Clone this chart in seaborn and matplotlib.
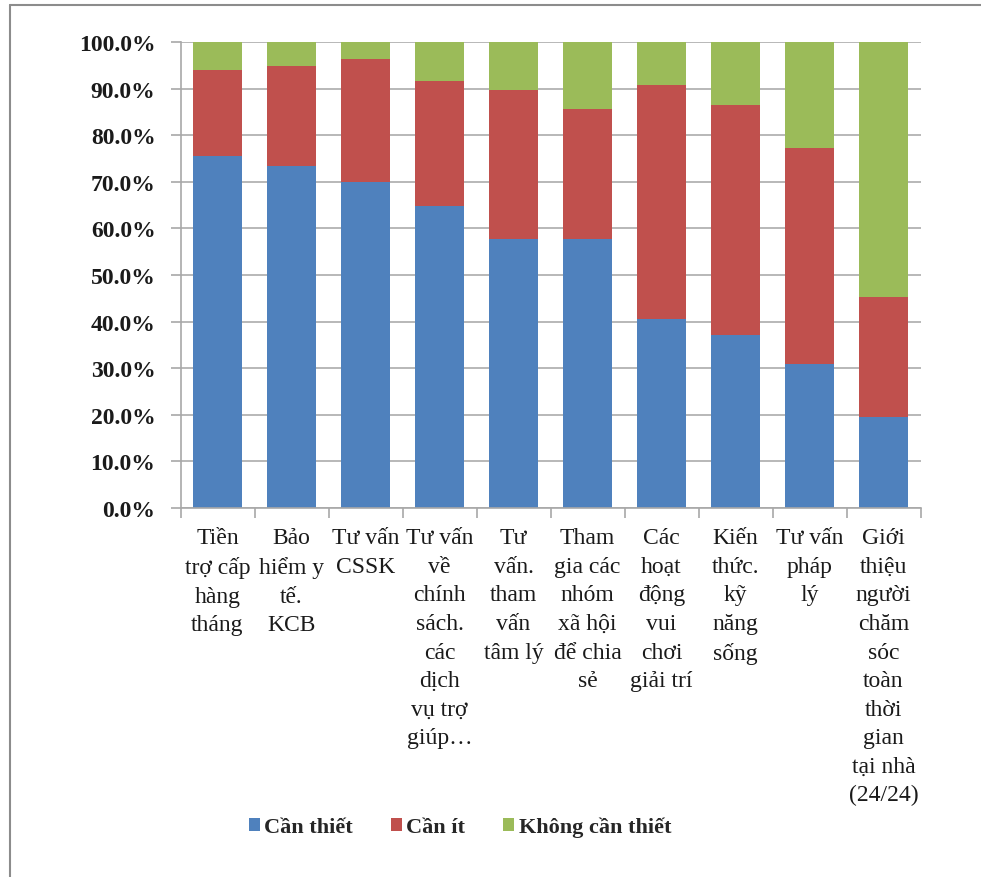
import numpy as np
import pandas as pd
import matplotlib
matplotlib.use("Agg")
import matplotlib.pyplot as plt
from matplotlib.lines import Line2D
from matplotlib.patches import Patch
from matplotlib.ticker import PercentFormatter, FixedLocator
import seaborn as sns

# Service categories (wrapped as they appear on the axis)
categories = [
    "Tiền\ntrợ cấp\nhàng\ntháng",
    "Bảo\nhiểm y\ntế.\nKCB",
    "Tư vấn\nCSSK",
    "Tư vấn\nvề\nchính\nsách.\ncác\ndịch\nvụ trợ\ngiúp…",
    "Tư\nvấn.\ntham\nvấn\ntâm lý",
    "Tham\ngia các\nnhóm\nxã hội\nđể chia\nsẻ",
    "Các\nhoạt\nđộng\nvui\nchơi\ngiải trí",
    "Kiến\nthức.\nkỹ\nnăng\nsống",
    "Tư vấn\npháp\nlý",
    "Giới\nthiệu\nngười\nchăm\nsóc\ntoàn\nthời\ngian\ntại nhà\n(24/24)",
]

# Share of respondents (%) per need level
can_thiet = [75.5, 73.3, 70.0, 64.9, 57.7, 57.7, 40.6, 37.1, 30.9, 19.5]
can_it = [18.5, 21.6, 26.3, 26.8, 32.1, 27.9, 50.2, 49.4, 46.3, 25.8]
khong_can_thiet = [6.0, 5.1, 3.7, 8.3, 10.2, 14.4, 9.2, 13.5, 22.8, 54.7]

series_names = ["Cần thiết", "Cần ít", "Không cần thiết"]
colors = ["#4F81BD", "#C0504D", "#9BBB59"]

sns.set_theme(style="white")
plt.rcParams["font.family"] = ["Liberation Serif", "DejaVu Serif"]

df = pd.DataFrame({
    "cat": categories,
    "s1": can_thiet,
    "s2": can_it,
    "s3": khong_can_thiet,
})
df["c1"] = df["s1"]
df["c2"] = df["s1"] + df["s2"]
df["c3"] = df["s1"] + df["s2"] + df["s3"]

fig = plt.figure(figsize=(9.81, 8.78), dpi=100)
ax = fig.add_axes([180.5 / 981, 1 - 509 / 878, 740 / 981, 466 / 878])

# Stacked bars: draw cumulative totals from the top segment downwards
for col, color in zip(["c3", "c2", "c1"], colors[::-1]):
    sns.barplot(data=df, x="cat", y=col, color=color, width=0.66,
                saturation=1, ax=ax, linewidth=0, zorder=2)

ax.set_xlim(-0.5, len(categories) - 0.5)
ax.set_ylim(0, 100)
ax.set_xlabel("")
ax.set_ylabel("")

ax.yaxis.set_major_locator(FixedLocator(np.arange(0, 101, 10)))
ax.yaxis.set_major_formatter(PercentFormatter(decimals=1))
ax.grid(axis="y", color="#ABABAB", linewidth=1.2, zorder=0)
ax.grid(axis="x", visible=False)
ax.set_axisbelow(True)

for side in ["top", "right"]:
    ax.spines[side].set_visible(False)
for side in ["left", "bottom"]:
    ax.spines[side].set_color("#A8A8A8")
    ax.spines[side].set_linewidth(1.2)

ax.tick_params(axis="y", which="major", left=True, length=7, width=1.2,
               color="#A8A8A8", pad=11, labelsize=17)
for lbl in ax.get_yticklabels():
    lbl.set_fontweight("bold")
    lbl.set_color("#1A1A1A")

# Category labels centred under bars, tick marks between categories
ax.set_xticks(range(len(categories)))
ax.set_xticklabels(categories, fontsize=17, color="#1A1A1A",
                   linespacing=1.47, ha="center", va="top")
ax.tick_params(axis="x", which="major", length=0, pad=14)
ax.set_xticks(np.arange(-0.5, len(categories), 1.0), minor=True)
ax.tick_params(axis="x", which="minor", bottom=True, length=7, width=1.2,
               color="#A8A8A8")

handles = [Patch(facecolor=c, edgecolor="none") for c in colors]
leg = fig.legend(handles, series_names, loc="center",
                 bbox_to_anchor=(460 / 981, 1 - 828 / 878), ncol=3,
                 frameon=False, handlelength=0.5, handleheight=0.5,
                 handletextpad=0.2, columnspacing=1.7,
                 prop={"family": ["Liberation Serif", "DejaVu Serif"],
                       "weight": "bold", "size": 16})

# Chart-area frame (top and left edges)
fig.add_artist(Line2D([10 / 981, 1.0], [1 - 6 / 878, 1 - 6 / 878],
                      color="#8C8C8C", linewidth=1.5))
fig.add_artist(Line2D([10 / 981, 10 / 981], [0.0, 1 - 6 / 878],
                      color="#8C8C8C", linewidth=1.5))

fig.savefig("out.png", dpi=100, facecolor="white")
